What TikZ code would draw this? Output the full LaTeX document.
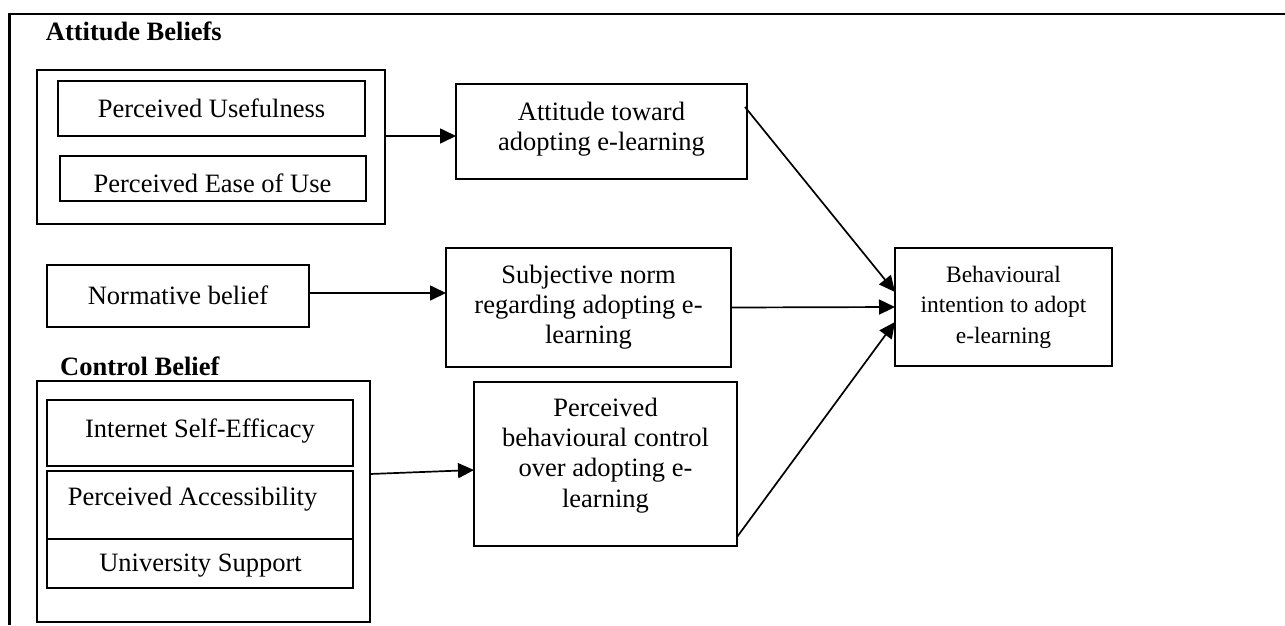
\documentclass[tikz,border=0pt]{standalone}
\usepackage{fontspec}
\setmainfont{Liberation Serif}
\usetikzlibrary{arrows.meta}
\begin{document}
\begin{tikzpicture}[x=1pt,y=-1pt,
  box/.style={draw, line width=1.5pt, inner sep=0pt, outer sep=0pt, anchor=north west},
  txt/.style={inner sep=0pt, anchor=base, font=\fontsize{26.5}{30.4}\selectfont},
  lbl/.style={inner sep=0pt, anchor=base west, font=\fontsize{26.5}{30.4}\selectfont\bfseries},
  arr/.style={line width=1.7pt, -{Triangle[length=16pt,width=15pt]}}]
\useasboundingbox (0,0) rectangle (1285,625);
% outer frame
\draw[line width=2.2pt] (9.5,625) -- (9.5,14) -- (1285,14);
% boxes
\node[box, minimum width=348pt, minimum height=154pt] (attg) at (37,70) {};
\node[box, minimum width=307pt, minimum height=55pt] (pu) at (58,81) {};
\node[box, minimum width=306pt, minimum height=45pt] (peou) at (60,156) {};
\node[box, minimum width=262pt, minimum height=62pt] (nb) at (47,265) {};
\node[box, minimum width=333pt, minimum height=241pt] (ctrlg) at (37,381) {};
\node[box, minimum width=306pt, minimum height=66pt] (ise) at (47,400) {};
\node[box, minimum width=306pt, minimum height=68pt] (pa) at (47,471) {};
\node[box, minimum width=306pt, minimum height=49pt] (us) at (47,539) {};
\node[box, minimum width=291pt, minimum height=95pt] (att) at (456,84) {};
\node[box, minimum width=285pt, minimum height=119pt] (sn) at (446,248) {};
\node[box, minimum width=263pt, minimum height=164pt] (pbc) at (474,382) {};
\node[box, minimum width=217pt, minimum height=118pt] (bi) at (895,248) {};
% texts
\node[lbl] (lblA) at (45.7,40.5) {Attitude Beliefs};
\node[txt] (tpu) at (211.5,117) {Perceived Usefulness};
\node[txt] (tpeou) at (212.5,192) {Perceived Ease of Use};
\node[txt] (tnb) at (178,304) {Normative belief};
\node[lbl] (lblC) at (60,375) {Control Belief};
\node[txt] (tise) at (200,437) {Internet Self-Efficacy};
\node[txt] (tpa) at (192.5,505) {Perceived Accessibility};
\node[txt] (tus) at (200.5,571) {University Support};
\node[txt] (tatt) at (601.5,120) {\parbox[t]{400pt}{\centering Attitude toward\\adopting e-learning}};
\node[txt] (tsn) at (588.5,283) {\parbox[t]{400pt}{\centering Subjective norm\\regarding adopting e-\\learning}};
\node[txt] (tpbc) at (605.5,416) {\parbox[t]{400pt}{\centering Perceived\\behavioural control\\over adopting e-\\learning}};
\node[txt, font=\fontsize{23.5}{30.7}\selectfont] (tbi) at (1003.5,282) {\parbox[t]{400pt}{\centering Behavioural\\intention to adopt\\e-learning}};
% connectors
\draw[arr] ([yshift=11pt]attg.east) -- ([yshift=-4.5pt]att.west);
\draw[arr] ([yshift=3pt]nb.east) -- ([yshift=14.5pt]sn.west);
\draw[arr] ([yshift=27.5pt]ctrlg.east) -- ([yshift=-6pt]pbc.west);
\draw[arr] ([xshift=-2pt,yshift=-23pt]att.north east) -- ([yshift=15pt]bi.west);
\draw[arr] (sn.east) -- (bi.west);
\draw[arr] ([yshift=9pt]pbc.south east) -- ([yshift=-15pt]bi.west);
\end{tikzpicture}
\end{document}
